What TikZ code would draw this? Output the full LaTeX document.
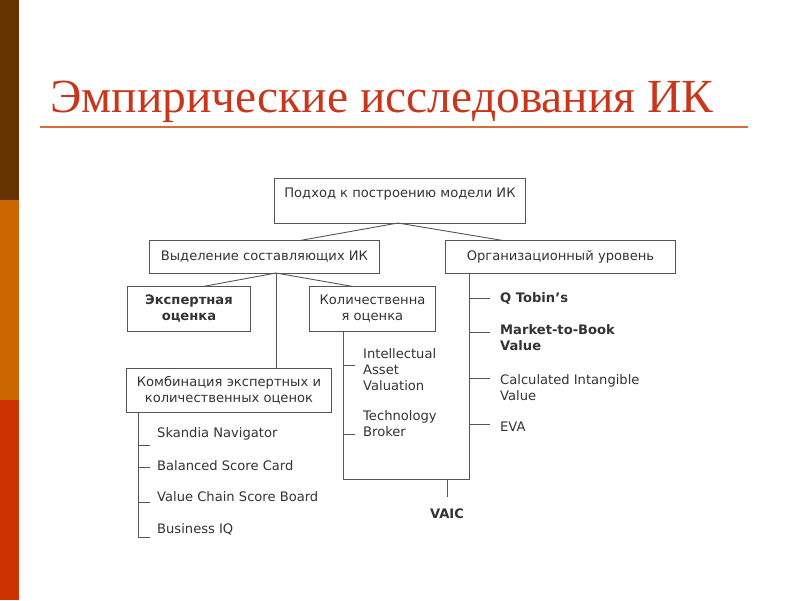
\documentclass[tikz,border=0pt]{standalone}
\usepackage{fontspec}
\setmainfont{DejaVu Sans}
\newfontfamily\titlefont{Liberation Serif}
\definecolor{barA}{HTML}{663300}
\definecolor{barB}{HTML}{CC6600}
\definecolor{barC}{HTML}{CC3300}
\definecolor{titlec}{HTML}{C8361C}
\definecolor{rulec}{HTML}{DA6A3A}
\definecolor{linec}{HTML}{555555}
\definecolor{txtc}{HTML}{333333}
\begin{document}
\begin{tikzpicture}[x=1pt,y=-1pt,
  box/.style={draw=linec, line width=0.9pt, rectangle, align=center, anchor=north west, inner sep=1pt, text=txtc, font=\fontsize{13.1}{16}\selectfont},
  conn/.style={draw=linec, line width=0.9pt},
  item/.style={anchor=west, align=left, inner sep=0pt, text=txtc, font=\fontsize{13.1}{16}\selectfont},
  bitem/.style={item, font=\fontsize{13.1}{16}\selectfont\bfseries}]
\useasboundingbox (0,0) rectangle (800,600);
\fill[white] (0,0) rectangle (800,600);
% side bar
\fill[barA] (0,0) rectangle (19,200);
\fill[barB] (0,200) rectangle (19,400);
\fill[barC] (0,400) rectangle (19,600);
% title
\node[anchor=base west, inner sep=0pt, text=titlec, font=\titlefont\fontsize{47.5}{52}\selectfont] (title) at (50,112) {Эмпирические исследования ИК};
\draw[rulec, line width=2pt] (40,127) -- (748,127);
% boxes
\node[box, minimum width=251, minimum height=45] (top) at (274,178) {Подход к построению модели ИК\\\mbox{}};
\node[box, minimum width=230, minimum height=33] (sel) at (149,240) {Выделение составляющих ИК};
\node[box, minimum width=230, minimum height=33] (org) at (445,240) {Организационный уровень};
\node[box, minimum width=123, minimum height=45, font=\fontsize{13.1}{16}\selectfont\bfseries] (exp) at (127,286) {Экспертная\\оценка};
\node[box, minimum width=126, minimum height=45] (kol) at (309,286) {Количественна\\я оценка};
\node[box, minimum width=205, minimum height=44] (komb) at (126,368) {Комбинация экспертных и\\количественных оценок};
% top connectors
\coordinate (tb) at (398,223);
\draw[conn] (tb) -- (300,240.5);
\draw[conn] (tb) -- (503,240.5);
\coordinate (sb) at (276,273);
\draw[conn] (sb) -- (203,286.5);
\draw[conn] (sb) -- (353,286.5);
\draw[conn] (sb) -- (sb |- komb.north);
% U shape
\coordinate (ub1) at (343,479);
\coordinate (ub2) at (469,479);
\draw[conn] (kol.south -| ub1) -- (ub1) -- (ub2) -- (org.south -| ub2);
% VAIC
\coordinate (vt) at (447,479);
\node[bitem, anchor=center] (vaic) at (447,514) {VAIC};
\draw[conn] (vt) -- (447,497);
% right list
\foreach \y/\n in {298/a,332/b,378/c,424/d}{
  \coordinate (r\n) at (469,\y);
  \coordinate (re\n) at (490,\y);
  \draw[conn] (r\n) -- (re\n);
}
\node[bitem] (qt) at (500,298) {Q Tobin’s};
\node[bitem] (mb) at (500,337.5) {Market-to-Book\\Value};
\node[item] (ci) at (500,388) {Calculated Intangible\\Value};
\node[item] (eva) at (500,427) {EVA};
% middle list
\foreach \y/\n in {365/a,434/b}{
  \coordinate (m\n) at (343,\y);
  \coordinate (me\n) at (355,\y);
  \draw[conn] (m\n) -- (me\n);
}
\node[item] (iav) at (363,370) {Intellectual\\Asset\\Valuation};
\node[item] (tbk) at (363,424) {Technology\\Broker};
% left list
\coordinate (lt) at (138,412);
\coordinate (lb) at (138,537);
\draw[conn] (lt) -- (lb) -- (150,537);
\foreach \y/\n in {445/a,467/b,502/c}{
  \coordinate (l\n) at (138,\y);
  \coordinate (le\n) at (150,\y);
  \draw[conn] (l\n) -- (le\n);
}
\node[item] (sk) at (157,434) {Skandia Navigator};
\node[item] (bsc) at (157,466) {Balanced Score Card};
\node[item] (vcs) at (157,497) {Value Chain Score Board};
\node[item] (biq) at (157,529) {Business IQ};
\end{tikzpicture}
\end{document}
